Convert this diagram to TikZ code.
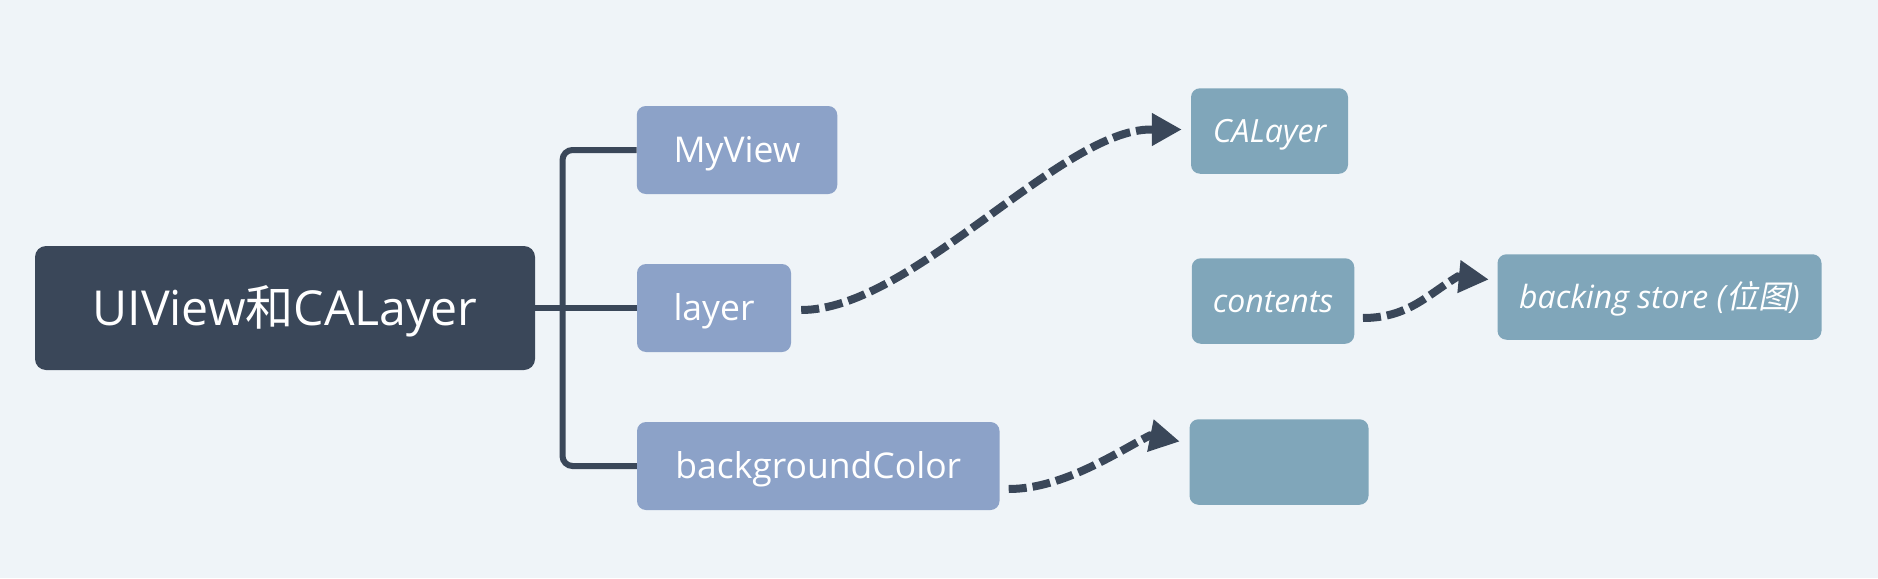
\documentclass[tikz,border=0pt]{standalone}
\usepackage{fontspec}
\setmainfont{Open Sans}
\newfontfamily\cjk{Noto Sans CJK SC}
\newfontfamily\cjkit[FakeSlant=0.2]{Noto Sans CJK SC}
\usetikzlibrary{arrows.meta,calc}
\definecolor{bgc}{HTML}{EFF4F8}
\definecolor{rootc}{HTML}{3A4759}
\definecolor{lonec}{HTML}{8CA2C8}
\definecolor{ltwoc}{HTML}{80A6BA}
\definecolor{linec}{HTML}{3A4759}
\begin{document}
\begin{tikzpicture}[x=1pt,y=-1pt,
  box/.style={rectangle, rounded corners=9pt, inner sep=0pt, text=white, align=center},
  rootbox/.style={box, fill=rootc, rounded corners=11pt, minimum width=500pt, minimum height=124pt, font=\fontsize{48.2}{58}\selectfont, text height=34.4pt, text depth=0pt},
  lone/.style={box, fill=lonec, minimum height=88pt, font=\fontsize{35.5}{42}\selectfont, text height=25.3pt, text depth=0pt},
  ltwo/.style={box, fill=ltwoc, minimum height=85.5pt, font=\fontsize{32}{38}\selectfont\itshape, text height=22.8pt, text depth=0pt},
  branch/.style={draw=linec, line width=6pt},
  dlink/.style={draw=linec, line width=8pt, dash pattern=on 18pt off 6pt, -{Triangle[length=30pt,width=31pt]}}
]
\fill[bgc] (0,0) rectangle (1878,578);
\node[rootbox] (root) at (285,308) {UIView{\cjk 和}CALayer};
\node[lone, minimum width=200.5pt] (myview) at (737,150) {MyView};
\node[lone, minimum width=154pt] (layer) at (714,308) {layer};
\node[lone, minimum width=362.5pt] (bgcolor) at (818.25,466) {backgroundColor};
\node[ltwo, minimum width=157pt] (calayer) at (1269.5,131) {CALayer};
\node[ltwo, minimum width=162.5pt] (contents) at (1273,301) {contents};
\node[ltwo, minimum width=324pt] (backing) at (1659.5,297) {backing store (\kern1pt{\cjkit 位图})};
\node[ltwo, minimum width=179pt] (empty) at (1279,462) {};
% tree branches
\coordinate (fork) at (562.5,308);
\draw[branch] (root.east) -- (layer.west);
\draw[branch, rounded corners=10pt] (myview.west) -| (fork) |- (bgcolor.west);
% dashed links
\coordinate (s1) at ($(layer.east)+(10,2)$);
\coordinate (t1) at ($(calayer.west)+(-9,-1.5)$);
\draw[dlink] (s1) .. controls +(110,0) and +(-90,0) .. ($(t1)+(-31,0)$) -- (t1);
\coordinate (s2) at ($(contents.east)+(8.5,17)$);
\coordinate (t2) at ($(backing.west)+(-8.5,-17.5)$);
\draw[dlink] (s2) .. controls +(45,0) and +(-30,18) .. ($(t2)+(-31,-3)$) -- (t2);
\coordinate (s3) at ($(bgcolor.east)+(9,23)$);
\coordinate (t3) at ($(empty.west)+(-9.5,-20.5)$);
\draw[dlink] (s3) .. controls +(55,0) and +(-30,15) .. ($(t3)+(-30,-6)$) -- (t3);
\end{tikzpicture}
\end{document}
